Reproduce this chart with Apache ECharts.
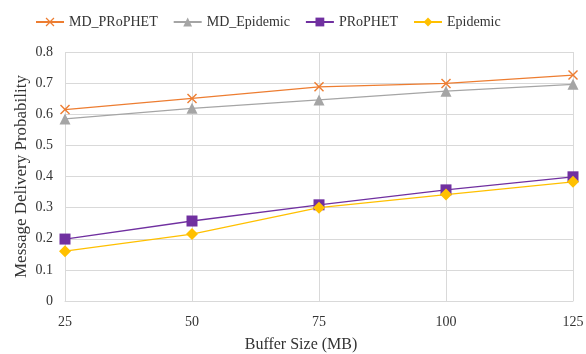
<!DOCTYPE html>
<html>
<head>
    <meta charset="utf-8">
    <script src="https://cdn.jsdelivr.net/npm/echarts@6/dist/echarts.min.js"></script>
    <style type="text/css">
        html, body { margin: 0; padding: 0; background: #fff; }
        #chart { width: 586px; height: 354px; }
    </style>
</head>
<body>
    <div id="chart"></div>
    <script type="text/javascript">
        var bufferSizes = ['25', '50', '75', '100', '125'];
        var mdProphet = [0.615, 0.651, 0.688, 0.699, 0.726];
        var mdEpidemic = [0.585, 0.619, 0.646, 0.674, 0.696];
        var prophet = [0.199, 0.257, 0.309, 0.357, 0.399];
        var epidemic = [0.160, 0.215, 0.300, 0.342, 0.383];

        var font = 'Liberation Serif';
        var crossPath = 'path://M1,0L5,4L9,0L10,1L6,5L10,9L9,10L5,6L1,10L0,9L4,5L0,1Z';

        function line(name, data, color, symbol, size) {
            return {
                name: name,
                type: 'line',
                data: data,
                symbol: symbol,
                symbolSize: size,
                showAllSymbol: true,
                lineStyle: { color: color, width: 1.3 },
                itemStyle: { color: color },
                emphasis: { disabled: true }
            };
        }

        var chart = echarts.init(document.getElementById('chart'));
        chart.setOption({
            animation: false,
            textStyle: { fontFamily: font },
            legend: {
                top: 10,
                left: 30,
                itemWidth: 28,
                itemHeight: 11,
                itemGap: 15,
                textStyle: { fontFamily: font, fontSize: 14, color: '#333' },
                data: ['MD_PRoPHET', 'MD_Epidemic', 'PRoPHET', 'Epidemic']
            },
            grid: { left: 65, right: 13, top: 52, bottom: 53, outerBoundsMode: 'none' },
            xAxis: {
                type: 'category',
                data: bufferSizes,
                boundaryGap: false,
                name: 'Buffer Size (MB)',
                nameLocation: 'middle',
                nameGap: 36,
                nameMoveOverlap: false,
                nameTextStyle: { fontFamily: font, fontSize: 16, color: '#333', padding: [0, 36, 0, 0] },
                axisLine: { show: true, lineStyle: { color: '#d9d9d9' } },
                axisTick: { show: false },
                axisLabel: { fontFamily: font, fontSize: 14, color: '#333', margin: 14 },
                splitLine: { show: true, lineStyle: { color: '#d9d9d9' } }
            },
            yAxis: {
                type: 'value',
                min: 0,
                max: 0.8,
                interval: 0.1,
                name: 'Message Delivery Probability',
                nameLocation: 'middle',
                nameGap: 35,
                nameMoveOverlap: false,
                nameTextStyle: { fontFamily: font, fontSize: 17, color: '#333' },
                axisLine: { show: false },
                axisTick: { show: false },
                axisLabel: {
                    fontFamily: font, fontSize: 14, color: '#333', margin: 12,
                    formatter: function (v) { return v === 0 ? '0' : v.toFixed(1); }
                },
                splitLine: { lineStyle: { color: '#d9d9d9' } }
            },
            series: [
                line('MD_PRoPHET', mdProphet, '#ED7D31', crossPath, 10),
                line('MD_Epidemic', mdEpidemic, '#A5A5A5', 'triangle', 11),
                line('PRoPHET', prophet, '#7030A0', 'rect', 11),
                line('Epidemic', epidemic, '#FFC000', 'diamond', 12)
            ]
        });
    </script>
</body>
</html>
